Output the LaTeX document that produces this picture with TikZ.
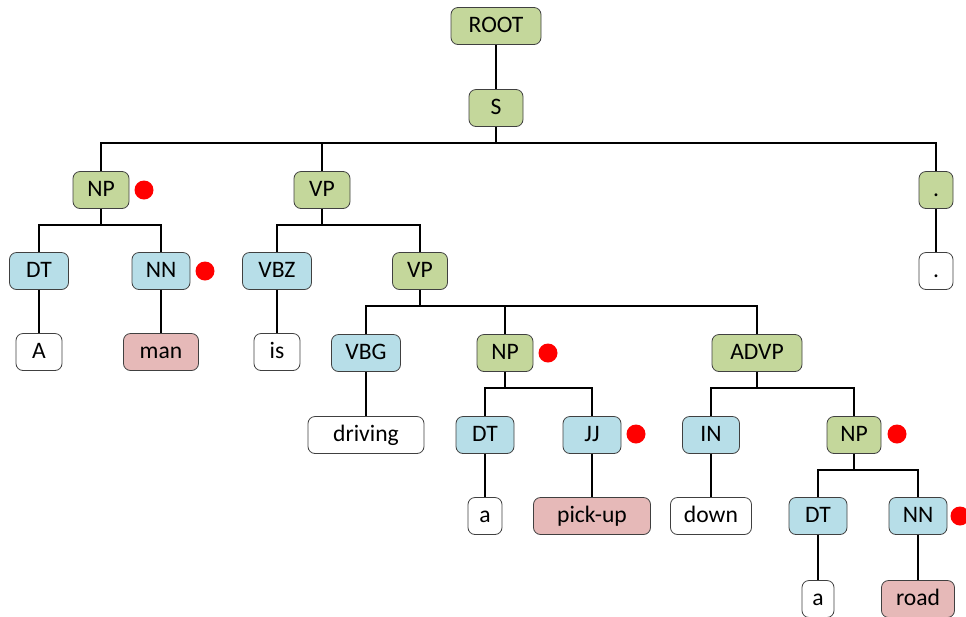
\documentclass[tikz,border=0pt]{standalone}
\usepackage{fontspec}
\setmainfont{Carlito}
\usetikzlibrary{positioning}
\definecolor{phrase}{HTML}{C4D79B}
\definecolor{tag}{HTML}{B7DEE8}
\definecolor{head}{HTML}{E6B9B8}
\tikzset{
  box/.style={draw=black!75, rounded corners=3.5pt, minimum height=18.5pt, inner sep=0pt,
    text height=8pt, text depth=2pt, font=\fontsize{11.8}{14}\selectfont},
  phr/.style={box, fill=phrase},
  tagbox/.style={box, fill=tag},
  wrd/.style={box, fill=white},
  hwrd/.style={box, fill=head},
  hit/.style={circle, fill=red, inner sep=0pt, minimum size=9.5pt},
  link/.style={line width=1.3pt}
}
\begin{document}
\begin{tikzpicture}[x=0.5pt, y=-0.5pt]
            \useasboundingbox (0, 0) rectangle (966, 617);
            % phrase nodes
            \node [phr, minimum width=45pt] (ROOT) at (496, 26) {ROOT};
            \node [phr, minimum width=27pt] (S) at (496, 108) {S};
            \node [phr, minimum width=28pt] (NP1) at (101, 190) {NP};
            \node [phr, minimum width=28pt] (VP1) at (322, 190) {VP};
            \node [phr, minimum width=17pt] (P1) at (936, 190) {.};
            \node [phr, minimum width=27.5pt] (VP2) at (420, 271) {VP};
            \node [phr, minimum width=28pt] (NP2) at (505, 353) {NP};
            \node [phr, minimum width=45pt] (ADVP) at (757, 353) {ADVP};
            \node [phr, minimum width=27pt] (NP3) at (854, 435) {NP};
            % tags
            \node [tagbox, minimum width=29.5pt] (DT1) at (39, 271) {DT};
            \node [tagbox, minimum width=29pt] (NN1) at (161, 271) {NN};
            \node [tagbox, minimum width=34.5pt] (VBZ) at (277, 271) {VBZ};
            \node [wrd, minimum width=17pt] (P2) at (936, 271) {.};
            \node [tagbox, minimum width=34.5pt] (VBG) at (366, 353) {VBG};
            \node [tagbox, minimum width=29pt] (DT2) at (485, 435) {DT};
            \node [tagbox, minimum width=29pt] (JJ) at (592, 435) {JJ};
            \node [tagbox, minimum width=28.5pt] (IN) at (711, 435) {IN};
            \node [tagbox, minimum width=29pt] (DT3) at (818, 516) {DT};
            \node [tagbox, minimum width=29pt] (NN3) at (918, 516) {NN};
            % words
            \node [wrd, minimum width=23pt] (A) at (39, 352) {A};
            \node [hwrd, minimum width=37.5pt] (man) at (161, 352) {man};
            \node [wrd, minimum width=23pt] (is) at (277, 352) {is};
            \node [wrd, minimum width=58pt] (driving) at (366, 435) {driving};
            \node [wrd, minimum width=17pt] (a1) at (485, 516) {a};
            \node [hwrd, minimum width=58.5pt] (pickup) at (592, 516) {pick-up};
            \node [wrd, minimum width=40.5pt] (down) at (711, 516) {down};
            \node [wrd, minimum width=16pt] (a2) at (818, 599) {a};
            \node [hwrd, minimum width=36.5pt] (road) at (918, 599) {road};
            % marks
            \node [hit] (H1) at (144, 190) {};
            \node [hit] (H2) at (205, 271) {};
            \node [hit] (H3) at (548, 353) {};
            \node [hit] (H4) at (636, 434) {};
            \node [hit] (H5) at (897, 434) {};
            \node [hit] (H6) at (960, 516) {};
            % branches
            \foreach \p/\c in {ROOT/S, S/NP1, S/VP1, S/P1, NP1/DT1, NP1/NN1, VP1/VBZ, VP1/VP2,
                P1/P2, DT1/A, NN1/man, VBZ/is, VP2/VBG, VP2/NP2, VP2/ADVP, VBG/driving,
                NP2/DT2, NP2/JJ, ADVP/IN, ADVP/NP3, DT2/a1, JJ/pickup, IN/down,
                NP3/DT3, NP3/NN3, DT3/a2, NN3/road}
                \draw[link] (\p.south) -- ++(0, 16) -| (\c.north);
        \end{tikzpicture}
\end{document}
